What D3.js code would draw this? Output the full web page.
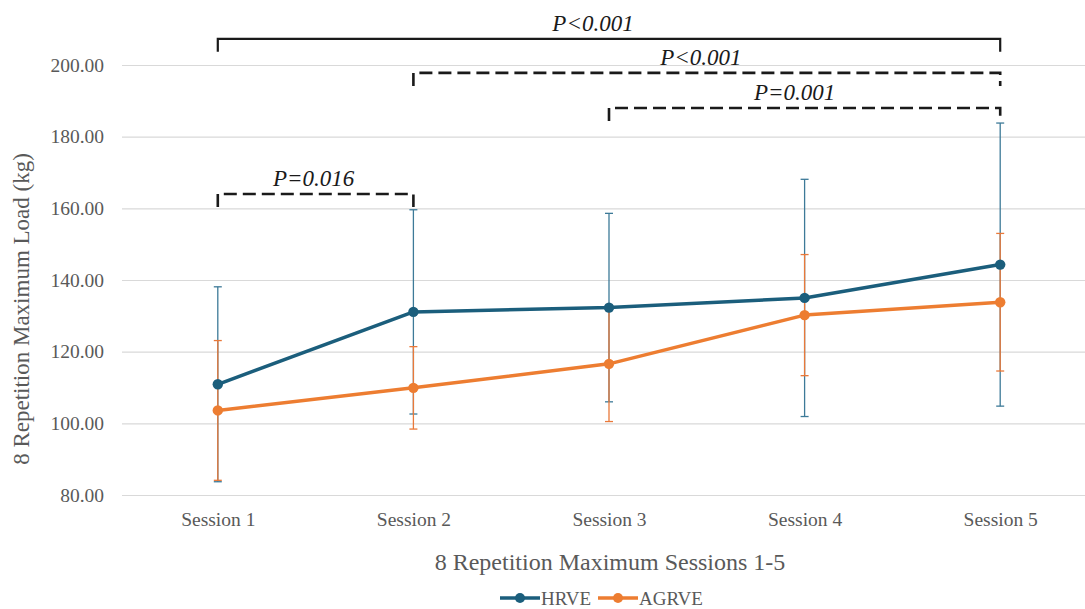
<!DOCTYPE html>
<html>
<head>
<meta charset="utf-8">
<script src="https://cdn.jsdelivr.net/npm/d3@7"></script>
<style>
  body { margin: 0; background: #fff; }
  svg text { font-family: "Liberation Serif", "Times New Roman", Times, serif !important; }
</style>
</head>
<body>
<svg width="1085" height="609"></svg>
<script>
// chart data
const sessions = ['Session 1', 'Session 2', 'Session 3', 'Session 4', 'Session 5'];
const hrveMean = [110.9, 131.1, 132.3, 135.0, 144.3];
const hrveSD = [27.2, 28.5, 26.3, 33.1, 39.5];
const agrveMean = [103.6, 109.9, 116.6, 130.2, 133.8];
const agrveSD = [19.5, 11.5, 16.1, 16.9, 19.2];
const yTicks = [80, 100, 120, 140, 160, 180, 200];
// significance brackets: from / to session index, level in kg
const brackets = [
  { from: 0, to: 4, level: 207.3, label: 'P<0.001', dashed: false, dx: -16 },
  { from: 1, to: 4, level: 197.8, label: 'P<0.001', dashed: true, dx: -6 },
  { from: 2, to: 4, level: 188.0, label: 'P=0.001', dashed: true, dx: -10 },
  { from: 0, to: 1, level: 164.0, label: 'P=0.016', dashed: true, dx: -2 }
];

const series = [
  { name: 'HRVE', mean: hrveMean, sd: hrveSD, color: '#1b5e7c', errColor: '#3d7a98' },
  { name: 'AGRVE', mean: agrveMean, sd: agrveSD, color: '#ed7d31', errColor: '#e9793a' }
];

const svg = d3.select('svg');
const plotLeft = 120, plotRight = 1098, plotTop = 65, plotBottom = 495;

const x = d3.scalePoint().domain(sessions).range([plotLeft, plotRight]).padding(0.5);
const y = d3.scaleLinear().domain([80, 200]).range([plotBottom, plotTop]);

// gridlines + y labels
const yAxis = d3.axisLeft(y).tickValues(yTicks).tickFormat(d3.format('.2f'))
  .tickSize(-(1085 - 122)).tickPadding(18);
const yg = svg.append('g').attr('transform', 'translate(122,0)').call(yAxis);
yg.select('.domain').remove();
yg.selectAll('.tick line').attr('stroke', '#d9d9d9').attr('stroke-width', 1.2);
yg.selectAll('.tick text').attr('fill', '#595959').style('font-size', '19.5px');

// x labels
const xAxis = d3.axisBottom(x).tickSize(0).tickPadding(17);
const xg = svg.append('g').attr('transform', `translate(0,${plotBottom})`).call(xAxis);
xg.select('.domain').remove();
xg.selectAll('.tick text').attr('fill', '#595959').style('font-size', '19.5px');

// axis titles
svg.append('text')
  .attr('transform', `translate(29,${(plotTop + plotBottom) / 2 + 29}) rotate(-90)`)
  .attr('text-anchor', 'middle').attr('fill', '#595959').style('font-size', '23px')
  .text('8 Repetition Maximum Load (kg)');
svg.append('text')
  .attr('x', 610).attr('y', 570).attr('text-anchor', 'middle')
  .attr('fill', '#595959').style('font-size', '24px')
  .text('8 Repetition Maximum Sessions 1-5');

// error bars
series.forEach(s => {
  const g = svg.append('g').attr('stroke', s.errColor).attr('stroke-width', 1.3);
  sessions.forEach((c, i) => {
    const cx = x(c), hi = y(s.mean[i] + s.sd[i]), lo = y(s.mean[i] - s.sd[i]);
    g.append('line').attr('x1', cx).attr('x2', cx).attr('y1', hi).attr('y2', lo);
    g.append('line').attr('x1', cx - 4).attr('x2', cx + 4).attr('y1', hi).attr('y2', hi);
    g.append('line').attr('x1', cx - 4).attr('x2', cx + 4).attr('y1', lo).attr('y2', lo);
  });
});

// lines and markers
const line = d3.line().x((d, i) => x(sessions[i])).y(d => y(d));
series.forEach(s => {
  svg.append('path').datum(s.mean).attr('d', line)
    .attr('fill', 'none').attr('stroke', s.color).attr('stroke-width', 3.5)
    .attr('stroke-linejoin', 'round');
  svg.append('g').selectAll('circle').data(s.mean).join('circle')
    .attr('cx', (d, i) => x(sessions[i])).attr('cy', d => y(d)).attr('r', 5.2)
    .attr('fill', s.color);
});

// significance brackets
brackets.forEach(b => {
  const x1 = x(sessions[b.from]), x2 = x(sessions[b.to]), by = y(b.level);
  svg.append('path')
    .attr('d', `M${x1},${by + 13}V${by}H${x2}V${by + 13}`)
    .attr('fill', 'none').attr('stroke', '#1a1a1a')
    .attr('stroke-width', b.dashed ? 2.6 : 2.2)
    .attr('stroke-dasharray', b.dashed ? '13,6' : null);
  svg.append('text')
    .attr('x', (x1 + x2) / 2 + b.dx).attr('y', by - 8)
    .attr('text-anchor', 'middle').attr('fill', '#1a1a1a')
    .style('font-size', '23px').style('font-style', 'italic')
    .text(b.label);
});

// legend
const legend = svg.append('g').attr('transform', 'translate(500,598)');
series.forEach((s, i) => {
  const lg = legend.append('g').attr('transform', `translate(${i * 98},0)`);
  lg.append('line').attr('x1', 0).attr('x2', 40).attr('stroke', s.color).attr('stroke-width', 3.5);
  lg.append('circle').attr('cx', 20).attr('r', 5).attr('fill', s.color);
  lg.append('text').attr('x', 41).attr('y', 7).attr('fill', '#595959')
    .style('font-size', '19px').text(s.name);
});
</script>
</body>
</html>
